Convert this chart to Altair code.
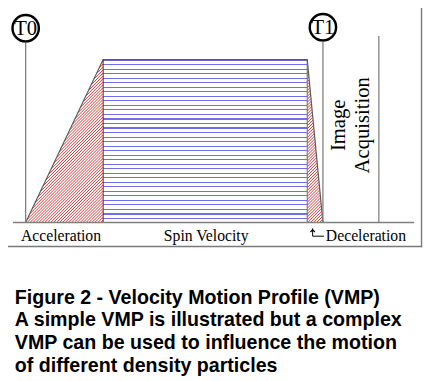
import altair as alt
import pandas as pd

# ---- diagram data (layout units of the original figure) ----
profile_t = [26, 105, 313, 329]          # T0, end of acceleration, start of deceleration, T1
profile_v = [223, 57, 57, 223]           # velocity level (baseline 223, spin level 57)
baseline_v = 223

marker_names = ["T0", "T1"]
marker_t = [26, 329]
marker_v = [25, 24]
marker_line_top = [38, 38]

acq_t = [386]
acq_top = [33]

phase_labels = ["Acceleration", "Spin Velocity"]
phase_label_t = [62, 210]
label_v = 242
decel_label = "Deceleration"
decel_label_t = 332

acq_lines = ["Image", "Acquisition"]
acq_line_t = [345, 370]
acq_line_v = [124, 124]

caption_lines = [
    "Figure 2 - Velocity Motion Profile (VMP)",
    "A simple VMP is illustrated but a complex",
    "VMP can be used to influence the motion",
    "of different density particles",
]
caption_t = 15
caption_v = 306

# frame edges as thin bands: (t, t2, v, v2)
frame_t = [0.5, 428.8, 0.5, 0.5]
frame_t2 = [430.2, 430.2, 430.2, 2.0]
frame_v = [0.5, 0.5, 246.8, 0.5]
frame_v2 = [2.0, 248.2, 248.2, 248.2]
axis_t = [13, 422]

# figure units -> page pixels (the page adds an 8px margin)
XS = alt.Scale(domain=[0, 431], range=[-8, 423], nice=False, zero=False)
YS = alt.Scale(domain=[0, 381], range=[-8, 373], nice=False, zero=False)


def X(f):
    return alt.X(f, type="quantitative", scale=XS, axis=None)


def Y(f):
    return alt.Y(f, type="quantitative", scale=YS, axis=None)


def hatch_segments(poly, step):
    """Diagonal '///' hatch segments (t + v = k) clipped to a convex polygon."""
    sums = [p[0] + p[1] for p in poly]
    rows = []
    k = min(sums) + step / 2
    while k < max(sums):
        pts = []
        n = len(poly)
        for i in range(n):
            (x1, y1), (x2, y2) = poly[i], poly[(i + 1) % n]
            f1, f2 = x1 + y1 - k, x2 + y2 - k
            if f1 == f2:
                continue
            if (f1 <= 0 <= f2) or (f2 <= 0 <= f1):
                s = f1 / (f1 - f2)
                pts.append((x1 + s * (x2 - x1), y1 + s * (y2 - y1)))
        if len(pts) >= 2:
            pts.sort()
            rows.append({"t": pts[0][0], "v": pts[0][1], "t2": pts[-1][0], "v2": pts[-1][1]})
        k += step
    return pd.DataFrame(rows)


def stripes(n, frac, color):
    stops = []
    for i in range(n):
        a, b, c = i / n, (i + frac) / n, (i + 1) / n
        stops += [
            alt.GradientStop(color=color, offset=a),
            alt.GradientStop(color=color, offset=b),
            alt.GradientStop(color="#ffffff", offset=b),
            alt.GradientStop(color="#ffffff", offset=c),
        ]
    return alt.LinearGradient(gradient="linear", stops=stops, x1=0, y1=0, x2=0, y2=1)


SERIF = "Liberation Serif"
SANS = "Liberation Sans"
RED = "#d23a3a"
GRAY = "#808080"

# outer frame drawn as four thin filled bands
frame_df = pd.DataFrame({"t": frame_t, "t2": frame_t2, "v": frame_v, "v2": frame_v2})
frame_mark = alt.Chart(frame_df).mark_rect(color="#7a7a7a", opacity=1).encode(
    x=X("t"), x2="t2", y=Y("v"), y2="v2"
)

# acceleration / deceleration regions: red hatch
acc_poly = [(profile_t[0], profile_v[0]), (profile_t[1], profile_v[1]), (profile_t[1], baseline_v)]
dec_poly = [(profile_t[2], profile_v[2]), (profile_t[3], profile_v[3]), (profile_t[2], baseline_v)]
hatch_df = pd.concat([hatch_segments(acc_poly, 3.0), hatch_segments(dec_poly, 3.0)])
hatch = alt.Chart(hatch_df).mark_rule(color=RED, strokeWidth=1).encode(
    x=X("t"), x2="t2", y=Y("v"), y2="v2"
)

# spin region (blue horizontal lines)
spin_df = pd.DataFrame({"t": [profile_t[1]], "t2": [profile_t[2]], "v": [profile_v[1]], "b": [baseline_v]})
spin = alt.Chart(spin_df).mark_rect(
    color=stripes(36, 0.25, "#7070ee")
).encode(x=X("t"), x2="t2", y=Y("v"), y2="b")

# profile outline
prof_df = pd.DataFrame({"t": profile_t, "v": profile_v, "i": range(4)})
outline = alt.Chart(prof_df).mark_line(color="#5a5a5a", strokeWidth=1.2).encode(
    x=X("t"), y=Y("v"), order="i"
)

div_df = pd.DataFrame({"t": profile_t[1:3], "v": profile_v[1:3], "b": [baseline_v] * 2,
                       "col": ["#7a1515", "#666666"]})
dividers = alt.Chart(div_df).mark_rule(strokeWidth=1).encode(
    x=X("t"), y=Y("v"), y2="b", color=alt.Color("col:N", scale=None)
)

# baseline
base_df = pd.DataFrame({"t": [axis_t[0]], "t2": [axis_t[1]], "v": [baseline_v]})
base = alt.Chart(base_df).mark_rule(color=GRAY, strokeWidth=1.5).encode(
    x=X("t"), x2="t2", y=Y("v")
)

# vertical marker lines
vl_df = pd.DataFrame({"t": marker_t + acq_t, "top": marker_line_top + acq_top, "b": [baseline_v] * 3})
vlines = alt.Chart(vl_df).mark_rule(color=GRAY, strokeWidth=1.3).encode(
    x=X("t"), y=Y("top"), y2="b"
)

# T0 / T1 circles
mk_df = pd.DataFrame({"t": marker_t, "v": marker_v, "name": marker_names})
circles = alt.Chart(mk_df).mark_point(
    shape="circle", size=720, filled=True, fill="white", stroke="black", strokeWidth=2.5, opacity=1
).encode(x=X("t"), y=Y("v"))
mk_text = alt.Chart(mk_df).mark_text(
    font=SERIF, fontSize=21, color="black", align="center", baseline="middle", dy=1
).encode(x=X("t"), y=Y("v"), text="name")

# phase labels
pl_df = pd.DataFrame({"t": phase_label_t, "v": [label_v] * 2, "txt": phase_labels})
plabels = alt.Chart(pl_df).mark_text(
    font=SERIF, fontSize=16, color="black", align="center", baseline="alphabetic"
).encode(x=X("t"), y=Y("v"), text="txt")

dl_df = pd.DataFrame({"t": [decel_label_t], "v": [label_v], "txt": [decel_label]})
dlabel = alt.Chart(dl_df).mark_text(
    font=SERIF, fontSize=16, color="black", align="left", baseline="alphabetic"
).encode(x=X("t"), y=Y("v"), text="txt")

# small arrow pointing at the deceleration region
arr_df = pd.DataFrame({"t": [318.5, 318.5, 330], "v": [229, 237, 237], "i": [0, 1, 2]})
arrow_line = alt.Chart(arr_df).mark_line(color="black", strokeWidth=1).encode(
    x=X("t"), y=Y("v"), order="i"
)
head_df = pd.DataFrame({"t": [318.5], "v": [230.5]})
arrow_head = alt.Chart(head_df).mark_point(
    shape="M -1 1 L 0 0 L 1 1", size=20, filled=False, stroke="black", strokeWidth=1.2, opacity=1
).encode(x=X("t"), y=Y("v"))

# Image Acquisition (rotated)
acq_df = pd.DataFrame({"t": acq_line_t, "v": acq_line_v, "txt": acq_lines})
acq_text = alt.Chart(acq_df).mark_text(
    font=SERIF, fontSize=21, color="black", align="center", baseline="middle", angle=270
).encode(x=X("t"), y=Y("v"), text="txt")

# caption
cap_df = pd.DataFrame({"t": [caption_t], "v": [caption_v]})
caption = alt.Chart(cap_df).mark_text(
    text=caption_lines, font=SANS, fontSize=20, fontWeight="bold", color="black",
    align="left", baseline="alphabetic", lineHeight=23
).encode(x=X("t"), y=Y("v"))

chart = alt.layer(
    hatch, spin, outline, dividers, base, vlines, circles, mk_text,
    plabels, dlabel, arrow_line, arrow_head, acq_text, caption, frame_mark
).properties(
    width=423, height=373, autosize=alt.AutoSizeParams(type="none"), padding=0,
    background="white"
).configure_view(stroke=None)

chart.save("out.html", embed_options={"renderer": "svg", "actions": False})
